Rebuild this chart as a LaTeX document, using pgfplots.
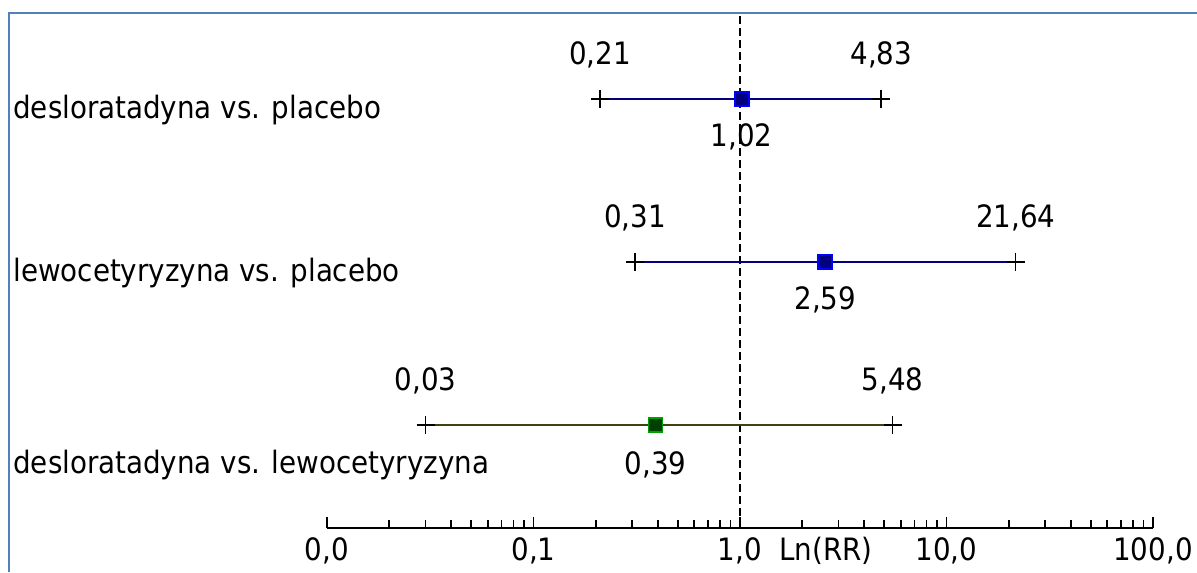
\documentclass[border=0pt]{standalone}
\usepackage{pgfplots}
\pgfplotsset{compat=1.18}
\usepackage{fontspec}
\setmainfont{DejaVu Sans Condensed}
\definecolor{navyline}{RGB}{0,0,128}
\definecolor{oliveline}{RGB}{64,64,16}
\definecolor{sqblue}{RGB}{0,0,255}
\definecolor{sqnavy}{RGB}{0,0,128}
\definecolor{sqgreen}{RGB}{0,160,0}
\definecolor{sqdkgreen}{RGB}{0,64,0}
\definecolor{framecol}{RGB}{79,129,189}
\newcommand{\lf}{\fontsize{15.4pt}{18pt}\selectfont}
\begin{document}
\begin{tikzpicture}[font=\lf]
\useasboundingbox (0,0) rectangle (598.5pt,286pt);
\draw[framecol, line width=1pt] (4.5pt,0pt) -- (4.5pt,279.25pt) -- (598.5pt,279.25pt);
\begin{axis}[
  at={(163.5pt,22pt)}, anchor=south west,
  scale only axis, width=413pt, height=257.5pt,
  xmode=log, xmin=0.01, xmax=100, ymin=0, ymax=515,
  axis x line=bottom, axis y line=none,
  x axis line style={-, line width=1pt},
  xtick={0.01,0.1,1,10,100},
  xticklabels={{0,0},{0,1},{1,0},{10,0},{100,0}},
  tick align=inside,
  major tick length=5.5pt, minor tick length=4pt,
  tick style={black, line width=0.9pt},
  xticklabel style={anchor=base, yshift=-16.5pt, font=\lf, inner sep=0pt},
  clip=false,
]
% reference line
\addplot[black, line width=1pt, dash pattern=on 4pt off 2pt] coordinates {(1,0) (1,513)};
% CI lines
\addplot[navyline, line width=1pt] coordinates {(0.21,429) (4.83,429)};
\addplot[navyline, line width=1pt] coordinates {(0.31,266) (21.64,266)};
\addplot[oliveline, line width=1pt] coordinates {(0.03,103) (5.48,103)};
% caps
\addplot[only marks, mark=+, mark size=4.5pt, black, mark options={line width=0.75pt}] coordinates {(0.21,429) (4.83,429) (0.31,266) (21.64,266) (0.03,103) (5.48,103)};
% point estimates
\addplot[only marks, mark=square*, mark size=3.5pt, mark options={draw=sqblue, fill=sqnavy, line width=0.9pt}] coordinates {(1.02,429) (2.59,266)};
\addplot[only marks, mark=square*, mark size=3.5pt, mark options={draw=sqgreen, fill=sqdkgreen, line width=0.9pt}] coordinates {(0.39,103)};
% value labels
\node at (axis cs:0.21,473) {0,21};
\node at (axis cs:4.83,473) {4,83};
\node at (axis cs:1.02,391) {1,02};
\node at (axis cs:0.31,310) {0,31};
\node at (axis cs:21.64,310) {21,64};
\node at (axis cs:2.59,228) {2,59};
\node at (axis cs:0.03,147) {0,03};
\node at (axis cs:5.48,147) {5,48};
\node at (axis cs:0.39,63) {0,39};
\node[anchor=base, inner sep=0pt] at ([yshift=-16.5pt]axis cs:2.61,0) {Ln(RR)};
\end{axis}
\node[anchor=west, inner sep=0pt] at (6.5pt,231pt) {desloratadyna vs. placebo};
\node[anchor=west, inner sep=0pt] at (6.5pt,149.5pt) {lewocetyryzyna vs. placebo};
\node[anchor=west, inner sep=0pt] at (6.5pt,53.5pt) {desloratadyna vs. lewocetyryzyna};
\end{tikzpicture}
\end{document}
